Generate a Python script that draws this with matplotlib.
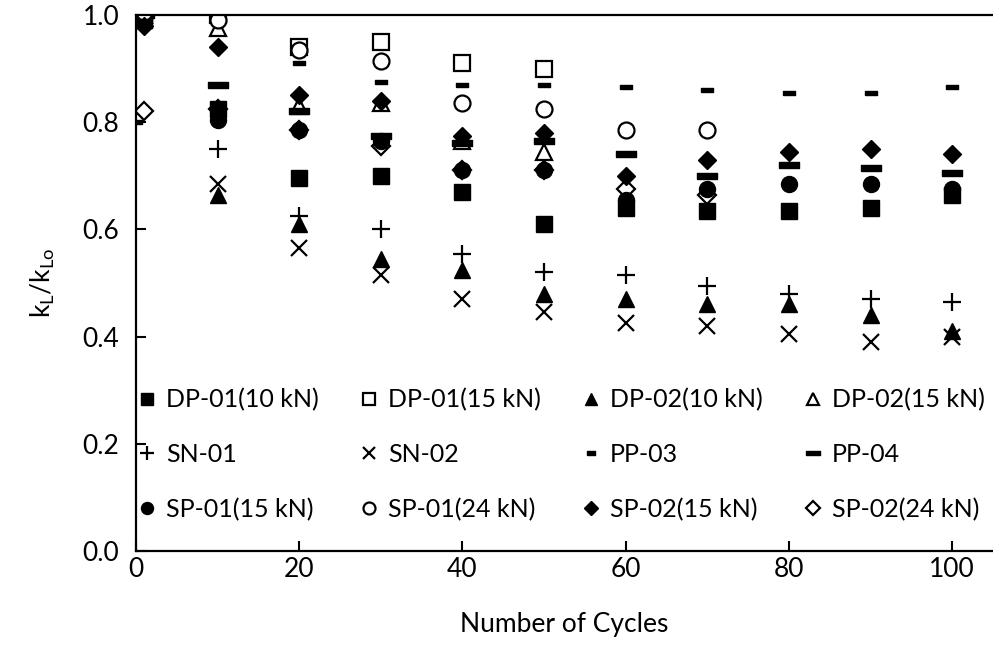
import numpy as np
import matplotlib
matplotlib.use("Agg")
import matplotlib.pyplot as plt

plt.rcParams['font.family'] = ['Lato', 'DejaVu Sans']

nan = np.nan

# loading cycles at which stiffness was measured
cycles = [1, 10, 20, 30, 40, 50, 60, 70, 80, 90, 100]
pp03_cycles = [0, 20, 30, 40, 50, 60, 70, 80, 90, 100]

# normalised lateral stiffness k_L / k_Lo
dp01_10 = [0.99, 0.825, 0.695, 0.70, 0.67, 0.61, 0.64, 0.635, 0.635, 0.64, 0.665]
dp01_15 = [1.00, 1.00, 0.94, 0.95, 0.91, 0.90, nan, nan, nan, nan, nan]
dp02_10 = [0.99, 0.665, 0.61, 0.545, 0.525, 0.48, 0.47, 0.46, 0.46, 0.44, 0.41]
dp02_15 = [1.00, 0.975, 0.83, 0.835, 0.765, 0.745, nan, nan, nan, nan, nan]
sn01 = [1.00, 0.75, 0.625, 0.60, 0.555, 0.52, 0.515, 0.495, 0.48, 0.47, 0.465]
sn02 = [1.00, 0.685, 0.565, 0.515, 0.47, 0.445, 0.425, 0.42, 0.405, 0.39, 0.40]
pp03 = [0.80, 0.91, 0.875, 0.87, 0.87, 0.865, 0.86, 0.855, 0.855, 0.865]
pp04 = [1.00, 0.87, 0.82, 0.775, 0.762, 0.765, 0.74, 0.70, 0.72, 0.715, 0.705]
sp01_15 = [0.99, 0.805, 0.785, 0.765, 0.71, 0.71, 0.655, 0.675, 0.685, 0.685, 0.675]
sp01_24 = [1.005, 0.99, 0.935, 0.915, 0.835, 0.825, 0.785, 0.785, nan, nan, nan]
sp02_15 = [0.98, 0.94, 0.85, 0.84, 0.775, 0.78, 0.70, 0.73, 0.745, 0.75, 0.74]
sp02_24 = [0.82, 0.825, 0.785, 0.755, 0.71, 0.71, 0.675, 0.665, nan, nan, nan]

# dash markers used for the PP specimens
short_dash = [(-1, -0.4), (1, -0.4), (1, 0.4), (-1, 0.4), (-1, -0.4)]
long_dash = [(-1, -0.3), (1, -0.3), (1, 0.3), (-1, 0.3), (-1, -0.3)]

fig = plt.figure(figsize=(9.93, 6.59), dpi=100)
ax = fig.add_axes([136 / 993, 108 / 659, 1 - 136 / 993, 536 / 659])

filled = dict(ls='none', color='black', mec='black', mew=1)
hollow = dict(ls='none', color='black', mfc='white', mec='black', mew=1.6)

series = [
    (cycles, dp01_10, 'DP-01(10 kN)', dict(marker='s', ms=11, **filled)),
    (cycles, dp01_15, 'DP-01(15 kN)', dict(marker='s', ms=11, **hollow)),
    (cycles, dp02_10, 'DP-02(10 kN)', dict(marker='^', ms=12, **filled)),
    (cycles, dp02_15, 'DP-02(15 kN)', dict(marker='^', ms=12, **hollow)),
    (cycles, sn01, 'SN-01', dict(marker='+', ms=13, ls='none', color='black', mew=1.6)),
    (cycles, sn02, 'SN-02', dict(marker='x', ms=12, ls='none', color='black', mew=1.6)),
    (pp03_cycles, pp03, 'PP-03', dict(marker=short_dash, ms=8, **filled)),
    (cycles, pp04, 'PP-04', dict(marker=long_dash, ms=14, **filled)),
    (cycles, sp01_15, 'SP-01(15 kN)', dict(marker='o', ms=11.5, **filled)),
    (cycles, sp01_24, 'SP-01(24 kN)', dict(marker='o', ms=11.5, **hollow)),
    (cycles, sp02_15, 'SP-02(15 kN)', dict(marker='D', ms=9.5, **filled)),
    (cycles, sp02_24, 'SP-02(24 kN)', dict(marker='D', ms=9.5, zorder=1.9, **hollow)),
]

handles = []
for x, y, name, style in series:
    line, = ax.plot(x, y, label=name, **style)
    handles.append(line)

ax.set_xlim(0, 105)
ax.set_ylim(0, 1.0)
ax.set_xticks(np.arange(0, 101, 20))
ax.set_yticks(np.arange(0, 1.01, 0.2))
ax.set_yticklabels([f'{v:.1f}' for v in np.arange(0, 1.01, 0.2)])
ax.tick_params(direction='in', length=7, width=1.5, labelsize=19)
ax.tick_params(axis='x', pad=4)
ax.tick_params(axis='y', pad=12)
ax.spines['right'].set_visible(False)
for side in ['left', 'bottom', 'top']:
    ax.spines[side].set_linewidth(1.6)

ax.set_xlabel('Number of Cycles', fontsize=19, labelpad=22)
ax.set_ylabel(r'k$_\mathregular{L}$/k$_\mathregular{Lo}$', fontsize=19, labelpad=18)

# legend reads row by row, matplotlib fills column by column
order = [0, 4, 8, 1, 5, 9, 2, 6, 10, 3, 7, 11]
ax.legend([handles[i] for i in order], [handles[i].get_label() for i in order],
          ncol=4, frameon=False, fontsize=18, markerscale=0.75,
          handlelength=0.8, handletextpad=0.35, columnspacing=1.62,
          labelspacing=1.27, loc='upper left',
          bbox_to_anchor=(137 / 993, 1 - 388 / 659), bbox_transform=fig.transFigure,
          borderaxespad=0, borderpad=0)

fig.savefig('out.png', dpi=100)
